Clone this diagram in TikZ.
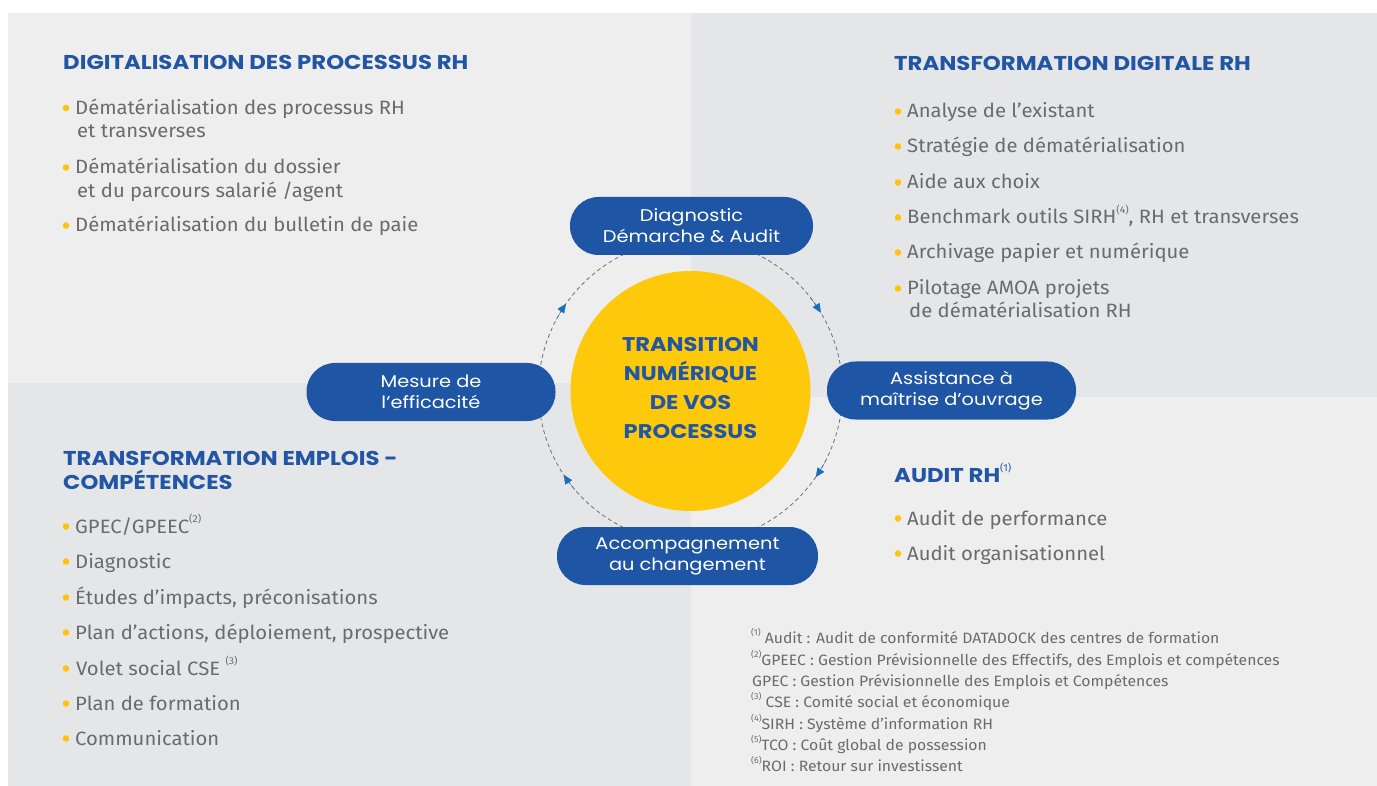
\documentclass[tikz,border=0pt]{standalone}
\usepackage{fontspec}
\setmainfont{Fira Sans}
\newfontfamily\hfont{Poppins}[FakeStretch=1.14]
\newfontfamily\bodyfont{Fira Sans}[FakeStretch=1.05]
\usetikzlibrary{arrows.meta}
\definecolor{bgLight}{HTML}{EEEEEE}
\definecolor{bgDark}{HTML}{E5E6E8}
\definecolor{pillblue}{HTML}{1F55A5}
\definecolor{titleblue}{HTML}{2255A4}
\definecolor{coreyellow}{HTML}{FFC90B}
\definecolor{dotyellow}{HTML}{FFC30F}
\definecolor{txtgray}{HTML}{6B6B6B}
\definecolor{ringgray}{HTML}{707070}
\definecolor{arrowblue}{HTML}{1A6CBE}
\newcommand{\fsup}[1]{\raisebox{0.55em}{\bodyfont\mdseries\fontsize{10}{10}\selectfont(#1)}}
\newcommand{\nsup}[1]{\raisebox{0.5em}{\bodyfont\fontsize{8.5}{8.5}\selectfont(#1)}}
\newcommand{\bdot}[2]{\fill[dotyellow] (#1,#2) circle[radius=3.3];}
\tikzset{
  title/.style={anchor=base west, inner sep=0pt, text=titleblue, font=\hfont\bfseries\fontsize{20}{24}\selectfont},
  item/.style={anchor=base west, inner sep=0pt, text=txtgray, font=\bodyfont\fontsize{19.3}{24}\selectfont},
  note/.style={anchor=base west, inner sep=0pt, text=txtgray, font=\bodyfont\fontsize{15}{18}\selectfont},
  pill/.style={rectangle, rounded corners=28.5pt, fill=pillblue, text=white, align=center, inner sep=0pt, minimum height=58pt, font=\hfont\fontsize{17}{21}\selectfont},
  ring/.style={draw=ringgray, line width=0.8pt, dash pattern=on 4pt off 3pt},
  arr/.style={draw=arrowblue, line width=0.1pt, -{Triangle[length=9pt,width=8pt]}, fill=arrowblue}
}
\begin{document}
\begin{tikzpicture}[x=1pt,y=-1pt]
\useasboundingbox (0,0) rectangle (1377,786);
\fill[white] (0,0) rectangle (1377,786);
\fill[bgLight] (8,13) rectangle (691,383);
\fill[bgDark] (691,13) rectangle (1377,397);
\fill[bgDark] (8,383) rectangle (691,786);
\fill[bgLight] (691,397) rectangle (1377,786);

% top-left block
\node[title] (t1) at (63,70) {DIGITALISATION DES PROCESSUS RH};
\bdot{66}{108}
\node[item] (a1) at (75,114.5) {Dématérialisation des processus RH};
\node[item] (a1b) at (77,138) {et transverses};
\bdot{66}{167.5}
\node[item] (a2) at (75,174) {Dématérialisation du dossier};
\node[item] (a2b) at (77,197.5) {et du parcours salarié /agent};
\bdot{66}{225.5}
\node[item] (a3) at (75,232) {Dématérialisation du bulletin de paie};

% top-right block
\node[title] (t2) at (894,70.5) {TRANSFORMATION DIGITALE RH};
\bdot{898}{111.5}
\node[item] (b1) at (907,118) {Analyse de l’existant};
\bdot{898}{146.5}
\node[item] (b2) at (907,153) {Stratégie de dématérialisation};
\bdot{898}{182.5}
\node[item] (b3) at (907,189) {Aide aux choix};
\bdot{898}{217.5}
\node[item] (b4) at (907,224) {Benchmark outils SIRH\fsup{4}, RH et transverses};
\bdot{898}{252.5}
\node[item] (b5) at (907,259) {Archivage papier et numérique};
\bdot{898}{288.5}
\node[item] (b6) at (907,295) {Pilotage AMOA projets};
\node[item] (b6b) at (909,318) {de dématérialisation RH};

% bottom-left block
\node[title] (t3) at (63,465) {TRANSFORMATION EMPLOIS -};
\node[title] (t3b) at (63,489) {COMPÉTENCES};
\bdot{66}{526.5}
\node[item] (c1) at (75,533) {GPEC/GPEEC\fsup{2}};
\bdot{66}{561.5}
\node[item] (c2) at (75,568) {Diagnostic};
\bdot{66}{597.5}
\node[item] (c3) at (75,604) {Études d’impacts, préconisations};
\bdot{66}{632.5}
\node[item] (c4) at (75,639) {Plan d’actions, déploiement, prospective};
\bdot{66}{668.5}
\node[item] (c5) at (76,675) {Volet social CSE \fsup{3}};
\bdot{66}{703.5}
\node[item] (c6) at (75,710) {Plan de formation};
\bdot{66}{738.5}
\node[item] (c7) at (75,745) {Communication};

% bottom-right block
\node[title] (t4) at (894,482) {AUDIT RH\fsup{1}};
\bdot{898}{518.5}
\node[item] (d1) at (907,525) {Audit de performance};
\bdot{898}{553.5}
\node[item] (d2) at (907,560) {Audit organisationnel};

% footnotes
\node[note] (n1) at (751,643) {\nsup{1} Audit : Audit de conformité DATADOCK des centres de formation};
\node[note] (n2) at (751,665) {\nsup{2}GPEEC : Gestion Prévisionnelle des Effectifs, des Emplois et compétences};
\node[note] (n3) at (752,686) {GPEC : Gestion Prévisionnelle des Emplois et Compétences};
\node[note] (n4) at (751,707) {\nsup{3} CSE : Comité social et économique};
\node[note] (n5) at (751,729) {\nsup{4}SIRH : Système d’information RH};
\node[note] (n6) at (751,750) {\nsup{5}TCO : Coût global de possession};
\node[note] (n7) at (751,771) {\nsup{6}ROI : Retour sur investissent};

% centre
\coordinate (c) at (690.5,391);
\draw[ring] (c) circle[radius=152];
\draw[arr] (c) ++(-152:152) arc[start angle=-152, end angle=-145, radius=152];
\draw[arr] (c) ++(-38:152) arc[start angle=-38, end angle=-31, radius=152];
\draw[arr] (c) ++(27.5:152) arc[start angle=27.5, end angle=34.5, radius=152];
\draw[arr] (c) ++(-220.5:152) arc[start angle=-220.5, end angle=-213.5, radius=152];
\node[circle, fill=coreyellow, minimum size=240pt, inner sep=0pt] (core) at (c) {};
\node[align=center, inner sep=0pt, text=titleblue, font=\hfont\bfseries\fontsize{19.8}{29.3}\selectfont] (coretext) at (690.5,388) {TRANSITION\\NUMÉRIQUE\\DE VOS\\PROCESSUS};

\node[pill, minimum width=243pt] (diag) at (691.5,226) {Diagnostic\\Démarche \& Audit};
\node[pill, minimum width=249pt] (amoa) at (951.5,390.5) {Assistance à\\maîtrise d’ouvrage};
\node[pill, minimum width=261pt] (acc) at (687.5,556) {Accompagnement\\au changement};
\node[pill, minimum width=249pt] (mes) at (431,392) {Mesure de\\l’efficacité};
\end{tikzpicture}
\end{document}
